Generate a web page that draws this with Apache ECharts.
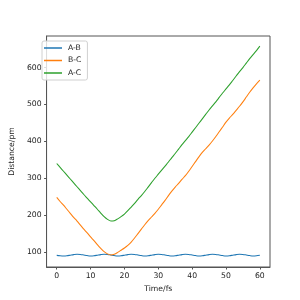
<!DOCTYPE html>
<html>
<head>
<meta charset="utf-8">
<script src="https://cdn.jsdelivr.net/npm/echarts@6/dist/echarts.min.js"></script>
<style>html,body{margin:0;padding:0;background:#fff}#c{width:300px;height:300px}</style>
</head>
<body>
<div id="c"></div>
<script>
var times = [];
for (var i = 0; i <= 60; i++) times.push(i);
var seriesNames = ['A-B', 'B-C', 'A-C'];
var abValues = [91,90,89.5,90,91.5,93,94,93.5,92,90.5,89.5,90,91.5,93,94,93.5,92,90.5,89.5,90,91.5,93,94,93.5,92,90.5,89.5,90,91.5,93,94,93.5,92,90.5,89.5,90,91.5,93,94,93.5,92,90.5,89.5,90,91.5,93,94,93.5,92,90.5,89.5,90,91.5,93,94,93.5,92,90.5,89.5,90,91.5];
var bcValues = [248,237,227,216,205,194,184,173,162,152,141,131,120,110,101,95,92,94,99,105,111,118,127,138,150,162,174,185,195,205,216,228,240,253,265,276,286,297,307,319,332,345,358,370,380,390,401,413,426,439,452,463,473,484,495,507,520,533,545,556,566];
var acValues = [340,329.5,319,308.5,298,287.5,277,266.5,256,246,236,226,216,205.5,196,188.5,184,185,190,196,203,212,222,232,243,253,264,276,288,300,311,322,333,344,356,367,379,391,402,413,425,437,449,461,473,485,496,507,519,531,542,553,565,577,589,600,612,624,635,646,658];
var xTicks = [0,10,20,30,40,50,60];
var yTicks = [100,200,300,400,500,600];
var colors = ['#1f77b4', '#ff7f0e', '#2ca02c'];

function pairs(vals) { return times.map(function (t, k) { return [t, vals[k]]; }); }
var all = [abValues, bcValues, acValues];
var font = 'DejaVu Sans';
var fs = 7.7;
var chart = echarts.init(document.getElementById('c'));
chart.setOption({
  animation: false,
  backgroundColor: '#fff',
  color: colors,
  grid: { left: 38, right: 30, top: 36, bottom: 33, show: true, borderColor: '#555', borderWidth: 1, backgroundColor: 'transparent' },
  legend: {
    orient: 'vertical', left: 42, top: 41,
    data: seriesNames,
    icon: 'rect', itemWidth: 18, itemHeight: 1.5, itemGap: 4.5,
    padding: [3, 6, 3, 2],
    borderColor: '#d0d0d0', borderWidth: 1, borderRadius: 2,
    backgroundColor: 'rgba(255,255,255,0.8)',
    textStyle: { fontFamily: font, fontSize: fs, color: '#222', padding: [0, 0, 0, 1] }
  },
  xAxis: {
    type: 'value', min: -3, max: 63,
    name: 'Time/fs', nameLocation: 'middle', nameGap: 16,
    nameTextStyle: { fontFamily: font, fontSize: fs, color: '#222' },
    axisLine: { show: true, onZero: false, lineStyle: { color: '#555', width: 1 } },
    axisTick: { show: true, inside: false, length: 2.5, lineStyle: { color: '#555' }, customValues: xTicks },
    axisLabel: { fontFamily: font, fontSize: fs, color: '#222', margin: 5, customValues: xTicks },
    splitLine: { show: false }
  },
  yAxis: {
    type: 'value', min: 59.5, max: 685.5,
    name: 'Distance/pm', nameLocation: 'middle', nameGap: 29, nameRotate: 90,
    nameTextStyle: { fontFamily: font, fontSize: fs, color: '#222' },
    axisLine: { show: true, onZero: false, lineStyle: { color: '#555', width: 1 } },
    axisTick: { show: true, inside: false, length: 2.5, lineStyle: { color: '#555' }, customValues: yTicks },
    axisLabel: { fontFamily: font, fontSize: fs, color: '#222', margin: 5, customValues: yTicks },
    splitLine: { show: false }
  },
  series: seriesNames.map(function (n, k) {
    return { name: n, type: 'line', data: pairs(all[k]), showSymbol: false, smooth: 0.3,
      lineStyle: { width: 1.05, color: colors[k] }, itemStyle: { color: colors[k] } };
  })
});
</script>
</body>
</html>
